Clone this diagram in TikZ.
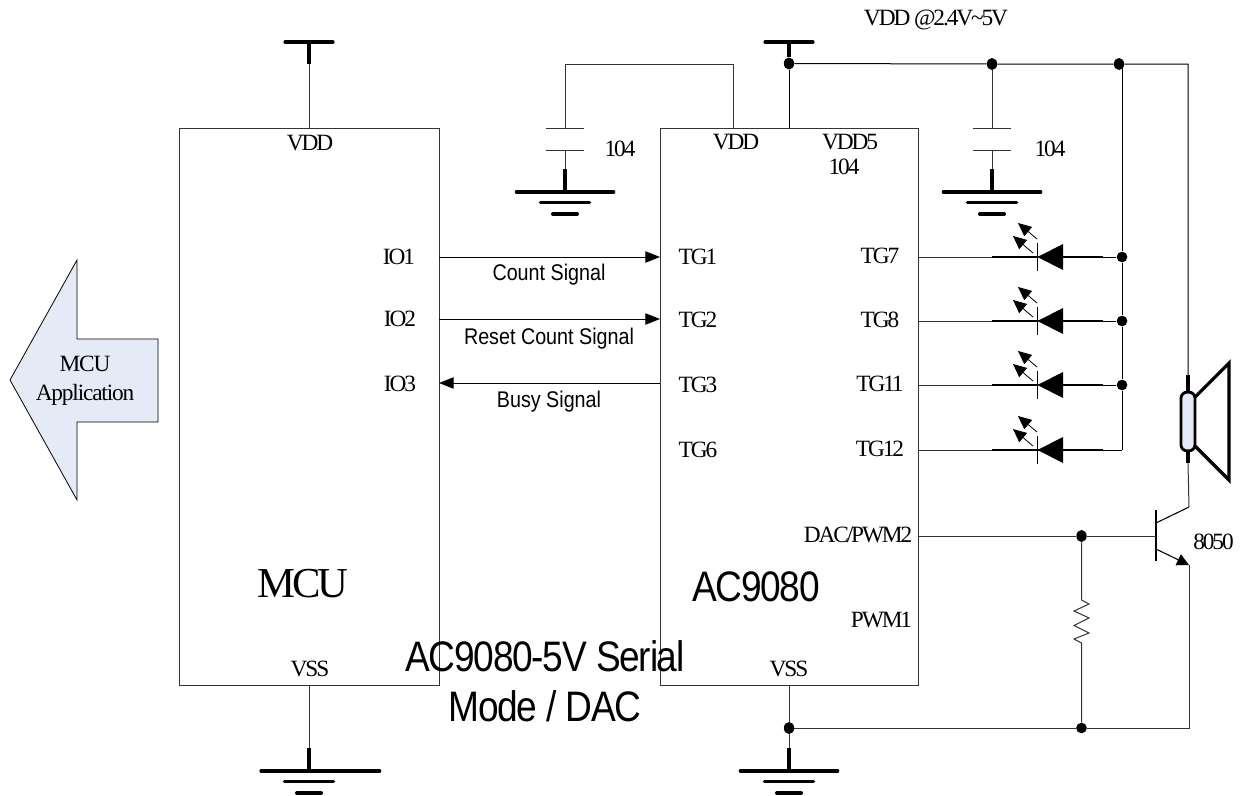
\documentclass[tikz,border=0pt]{standalone}
\usepackage{fontspec}
\setmainfont{Liberation Serif}
\newfontfamily\tightserif[LetterSpace=-9]{Liberation Serif}
\newfontfamily\appserif[LetterSpace=-5]{Liberation Serif}
\newfontfamily\bigserif[LetterSpace=-8]{Liberation Serif}
\newfontfamily\tightsans[FakeStretch=0.87]{Liberation Sans}
\newfontfamily\bigsans[FakeStretch=0.87,LetterSpace=-3]{Liberation Sans}
\usetikzlibrary{arrows.meta,shapes.geometric}
\definecolor{paleblue}{HTML}{E4EBF6}
\definecolor{wiregray}{HTML}{333333}
\tikzset{
  wire/.style={draw=wiregray,line width=0.75pt},
  heavy/.style={draw=black,line width=2.4pt},
  chip/.style={draw=wiregray,line width=0.65pt},
  lbl/.style={font=\tightserif\fontsize{17.5}{19}\selectfont,inner sep=0pt},
  sig/.style={font=\tightsans\fontsize{17}{19}\selectfont,inner sep=0pt,anchor=base},
  big/.style={font=\bigsans\fontsize{32}{37.5}\selectfont,inner sep=0pt},
  sigarrow/.style={draw=black,line width=0.75pt,-{Triangle[length=11pt,width=8.5pt]}},
  dotmark/.style={circle,fill=black,inner sep=0pt,minimum size=8pt},
  ovaldot/.style={ellipse,fill=black,inner sep=0pt,minimum width=7.7pt,minimum height=9pt},
}
\begin{document}
\begin{tikzpicture}[x=0.75pt,y=-0.75pt]
\useasboundingbox (0,0) rectangle (1240,796);
% chips
\node[chip,minimum width=195pt,minimum height=417.75pt,inner sep=0pt] (mcu) at (309,406.5) {};
\node[chip,minimum width=193.5pt,minimum height=417.75pt,inner sep=0pt] (ac) at (789,406.5) {};
% pin coordinates
\coordinate (mcuvdd) at (309,128);
\coordinate (mcuvss) at (309,685);
\coordinate (acvdd) at (733,128);
\coordinate (acvddfive) at (789,128);
\coordinate (acvss) at (789,685);
\foreach \n/\y in {a/257,b/319,c/383}{
  \coordinate (l\n) at (439,\y);
  \coordinate (r\n) at (660,\y);
}
% left supply
\coordinate (tla) at (285,42); \coordinate (tlb) at (333,42);
\coordinate (tlc) at (309,42); \coordinate (tld) at (309,64);
\draw[heavy,line cap=round] (tla) -- (tlb);
\draw[heavy] (tlc) -- (tld);
\draw[wire] (tld) -- (mcuvdd);
% grounds
\foreach \n/\x/\y/\a/\b in {gl/309/771/36/53,gr/789/771/36.5/36.5,gc/565/192/36.5/36.5,gd/992/192/36.5/36.5}{
  \coordinate (\n) at (\x,\y);
  \coordinate (\n-s) at (\x,\y-23);
  \draw[heavy,line cap=round] ([xshift=-\a pt]\n) -- ([xshift=\b pt]\n);
  \draw[heavy,line cap=round] ([xshift=-18.5pt,yshift=-8pt]\n) -- ([xshift=18.5pt,yshift=-8pt]\n);
  \draw[line width=3pt,line cap=round] ([xshift=-9pt,yshift=-16.5pt]\n) -- ([xshift=9pt,yshift=-16.5pt]\n);
  \draw[heavy] (\n) -- (\n-s);
}
\draw[wire] (mcuvss) -- (gl-s);
% decoupling cap left
\coordinate (wla) at (565,64); \coordinate (wlb) at (733,64);
\coordinate (cla) at (565,128); \coordinate (clb) at (565,150);
\draw[wire] (acvdd) -- (wlb) -- (wla) -- (cla);
\draw[wire] ([xshift=-14pt]cla) -- ([xshift=14pt]cla);
\draw[wire] ([xshift=-14pt]clb) -- ([xshift=14pt]clb);
\draw[wire] (clb) -- (gc-s);
% right supply
\coordinate (tra) at (765,42); \coordinate (trb) at (813,42);
\coordinate (trc) at (789,42);
\node[ovaldot] (dvdd) at (789,63.5) {};
\node[ovaldot] (dcap) at (992,64) {};
\node[ovaldot] (drail) at (1119,64) {};
\coordinate (spktop) at (1188,64);
\coordinate (spkb) at (1188,375);
\coordinate (spkc) at (1188,392);
\draw[heavy,line cap=round] (tra) -- (trb);
\draw[heavy] (trc) -- (dvdd);
\draw[wire,draw=black] (dvdd) -- (acvddfive);
\draw[wire,draw=black] (dvdd) -- (dcap) -- (drail) -- (spktop) -- (spkb);
% cap right
\coordinate (cra) at (992,128); \coordinate (crb) at (992,150);
\draw[wire] (dcap) -- (cra);
\draw[wire] ([xshift=-14pt]cra) -- ([xshift=14pt]cra);
\draw[wire] ([xshift=-14pt]crb) -- ([xshift=14pt]crb);
\draw[wire] (crb) -- (gd-s);
% led rail
\coordinate (railtop) at (1122,64);
\coordinate (railbot) at (1122,450);
\node[dotmark] (da) at (1122,257) {};
\node[dotmark] (db) at (1122,321) {};
\node[dotmark] (dc) at (1122,385) {};
\draw[wire,draw=black] (railtop) -- (da) -- (db) -- (dc) -- (railbot);
% LEDs
\foreach \n/\y/\k in {p/257/da,q/321/db,r/385/dc,s/450/railbot}{
  \coordinate (\n-o) at (918,\y);
  \coordinate (\n-a) at (992,\y);
  \coordinate (\n-c) at (1063,\y);
  \coordinate (\n-d) at (1103,\y);
  \draw[wire] (\n-o) -- (\n-a);
  \draw[line width=1.8pt] (\n-a) -- (\n-c);
  \draw[line width=1.8pt] (\n-c) -- (\n-d);
  \draw[wire,draw=black] (\n-d) -- (\k);
  \draw[line width=1.2pt] (1037.5,\y-14) -- (1037.5,\y+14);
  \fill (1037.5,\y) -- (1063,\y-13) -- (1063,\y+13) -- cycle;
  \draw[line width=0.6pt,-{Triangle[length=10pt,width=9pt]}] (1037,\y-18) -- (1018,\y-34);
  \draw[line width=0.6pt,-{Triangle[length=10pt,width=9pt]}] (1033,\y-4) -- (1013,\y-21);
}
% speaker
\coordinate (spkd) at (1188,451);
\coordinate (spke) at (1188,463);
\coordinate (spkf) at (1189,507);
\coordinate (spkg) at (1195,397);
\coordinate (spkh) at (1229,363);
\coordinate (spki) at (1229,480);
\coordinate (spkj) at (1195,446);
\draw[heavy] (spkb) -- (spkc);
\draw[heavy] (spkd) -- (spke);
\draw[heavy,line join=miter] (spkg) -- (spkh) -- (spki) -- (spkj);
\node[draw=black,line width=2.1pt,fill=paleblue,rounded corners=4.5pt,minimum width=10.5pt,minimum height=44pt,inner sep=0pt] (spkbody) at (1188,421.5) {};
\draw[wire] (spke) -- (spkf);
% transistor
\coordinate (tbase) at (1156,536);
\coordinate (tcola) at (1156,523);
\coordinate (temia) at (1156,549);
\coordinate (temib) at (1189,565);
\coordinate (dacpin) at (918,536);
\node[ovaldot] (dbase) at (1081.5,536) {};
\draw[line width=0.8pt] (1156,510) -- (1156,561);
\draw[wire] (dacpin) -- (dbase) -- (tbase);
\draw[line width=0.8pt] (tcola) -- (spkf);
\draw[line width=0.8pt,-{Triangle[length=9pt,width=9pt]}] (temia) -- (temib);
% bottom return
\node[ovaldot] (dgnd) at (789,728) {};
\node[dotmark] (dres) at (1081.5,728) {};
\coordinate (retc) at (1189,728);
\draw[wire] (acvss) -- (dgnd) -- (gr-s);
\draw[wire] (temib) -- (retc) -- (dres) -- (dgnd);
% resistor
\coordinate (resa) at (1081.5,600);
\coordinate (resb) at (1081.5,643);
\draw[wire,line join=miter] (dbase) -- (resa) -- (1089,604) -- (1074,611) -- (1089,618) -- (1074,625.5) -- (1089,633) -- (1074,639) -- (resb) -- (dres);
% signals
\draw[sigarrow] (la) -- (ra);
\draw[sigarrow] (lb) -- (rb);
\draw[sigarrow] (rc) -- (lc);
% MCU application arrow
\draw[draw=black,line width=0.6pt,fill=paleblue] (10,380) -- (77,260) -- (77,339) -- (158,339) -- (158,422) -- (77,422) -- (77,500) -- cycle;
\node[lbl,align=center,font=\appserif\fontsize{17.5}{21.75}\selectfont] (applabel) at (85,381) {MCU\\Application};
% labels
\node[lbl] (t1) at (310,143) {VDD};
\node[lbl] (t2) at (310,669) {VSS};
\node[lbl] (t3) at (736,142) {VDD};
\node[lbl] (t4) at (850,142) {VDD5};
\node[lbl] (t5) at (844,167) {104};
\node[lbl] (t6) at (789,669) {VSS};
\node[lbl] (t7) at (620,149) {104};
\node[lbl] (t8) at (1050,149) {104};
\node[lbl] (t9) at (936,20) {VDD @2.4V\textasciitilde 5V};
\node[lbl] (i1) at (399,257) {IO1};
\node[lbl] (i2) at (400,319) {IO2};
\node[lbl] (i3) at (400,384) {IO3};
\foreach \n/\s/\y in {g1/TG1/257,g2/TG2/320,g3/TG3/385,g6/TG6/450}{
  \node[lbl] (\n) at (698,\y) {\s};
}
\foreach \n/\s/\y in {g7/TG7/256,g8/TG8/320,g11/TG11/384,g12/TG12/449}{
  \node[lbl] (\n) at (880,\y) {\s};
}
\node[lbl] (dac) at (858,535) {DAC/PWM2};
\node[lbl] (pwm) at (881.5,620) {PWM1};
\node[lbl] (n8050) at (1213.5,542) {8050};
\node[sig] (s1) at (549,280) {Count Signal};
\node[sig] (s2) at (549,344) {Reset Count Signal};
\node[sig] (s3) at (549,407) {Busy Signal};
\node[inner sep=0pt,font=\bigserif\fontsize{32}{37}\selectfont] (mcuname) at (303,584) {MCU};
\node[big] (acname) at (756,587) {AC9080};
\node[big,align=center] (title) at (545,681) {AC9080-5V Serial\\Mode / DAC};
\end{tikzpicture}
\end{document}
